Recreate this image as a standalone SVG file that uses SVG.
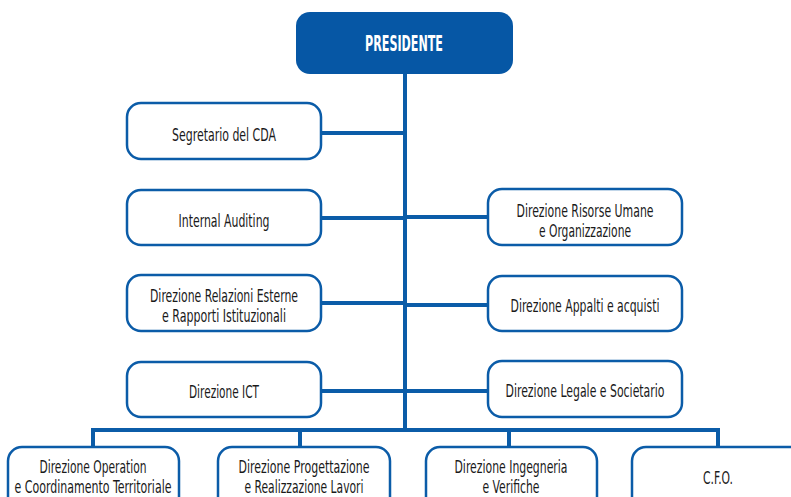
<svg xmlns="http://www.w3.org/2000/svg" width="791" height="497" viewBox="0 0 791 497">
<style>
.box{fill:#fff;stroke:#0b5ca8;stroke-width:2.5}
.top{fill:#0657a5;stroke:none}
.ln{fill:none;stroke:#0b5ca8;stroke-width:4}
text{font-family:"Liberation Sans Narrow","DejaVu Sans Condensed","Liberation Sans",sans-serif;font-size:18px;fill:#1a1a1a;text-anchor:middle}
.t{font-weight:bold;font-size:21px;fill:#fff}
</style>
<rect width="791" height="497" fill="#fff"/>
<g id="connectors">
<path class="ln" d="M405 73V430"/>
<path class="ln" d="M321 133H405M321 218H405M321 303H405M321 391H405"/>
<path class="ln" d="M405 217H488M405 305H488M405 391H488"/>
<path class="ln" d="M93 430H718M93 428V448M300 428V448M509 428V448M718 428V448"/>
</g>
<g id="presidente">
<rect class="top" x="296" y="12" width="217" height="62" rx="14"/>
<text class="t" x="404" y="51" textLength="78" lengthAdjust="spacingAndGlyphs">PRESIDENTE</text>
</g>
<g id="segretario">
<rect class="box" x="127" y="103" width="194" height="56" rx="14"/>
<text x="224" y="141" textLength="104" lengthAdjust="spacingAndGlyphs">Segretario del CDA</text>
</g>
<g id="internal-auditing">
<rect class="box" x="127" y="190" width="194" height="55" rx="14"/>
<text x="224" y="227" textLength="91" lengthAdjust="spacingAndGlyphs">Internal Auditing</text>
</g>
<g id="relazioni">
<rect class="box" x="127" y="275" width="194" height="56" rx="14"/>
<text x="224" y="302" textLength="148" lengthAdjust="spacingAndGlyphs">Direzione Relazioni Esterne</text>
<text x="224" y="322" textLength="124" lengthAdjust="spacingAndGlyphs">e Rapporti Istituzionali</text>
</g>
<g id="ict">
<rect class="box" x="127" y="362" width="194" height="55" rx="14"/>
<text x="224" y="398" textLength="70" lengthAdjust="spacingAndGlyphs">Direzione ICT</text>
</g>
<g id="risorse-umane">
<rect class="box" x="488" y="189" width="194" height="56" rx="14"/>
<text x="585" y="217" textLength="137" lengthAdjust="spacingAndGlyphs">Direzione Risorse Umane</text>
<text x="585" y="237" textLength="92" lengthAdjust="spacingAndGlyphs">e Organizzazione</text>
</g>
<g id="appalti">
<rect class="box" x="488" y="276" width="194" height="55" rx="14"/>
<text x="585" y="312" textLength="149" lengthAdjust="spacingAndGlyphs">Direzione Appalti e acquisti</text>
</g>
<g id="legale">
<rect class="box" x="488" y="361" width="194" height="56" rx="14"/>
<text x="585" y="397" textLength="159" lengthAdjust="spacingAndGlyphs">Direzione Legale e Societario</text>
</g>
<g id="operation">
<rect class="box" x="8" y="447" width="171" height="70" rx="14"/>
<text x="93" y="473" textLength="107" lengthAdjust="spacingAndGlyphs">Direzione Operation</text>
<text x="93" y="493" textLength="157" lengthAdjust="spacingAndGlyphs">e Coordinamento Territoriale</text>
</g>
<g id="progettazione">
<rect class="box" x="218" y="447" width="172" height="70" rx="14"/>
<text x="304" y="473" textLength="131" lengthAdjust="spacingAndGlyphs">Direzione Progettazione</text>
<text x="304" y="493" textLength="119" lengthAdjust="spacingAndGlyphs">e Realizzazione Lavori</text>
</g>
<g id="ingegneria">
<rect class="box" x="426" y="447" width="171" height="70" rx="14"/>
<text x="511" y="473" textLength="113" lengthAdjust="spacingAndGlyphs">Direzione Ingegneria</text>
<text x="511" y="493" textLength="57" lengthAdjust="spacingAndGlyphs">e Verifiche</text>
</g>
<g id="cfo">
<rect class="box" x="632" y="447" width="200" height="70" rx="14"/>
<text x="718" y="484" textLength="30" lengthAdjust="spacingAndGlyphs">C.F.O.</text>
</g>
</svg>
